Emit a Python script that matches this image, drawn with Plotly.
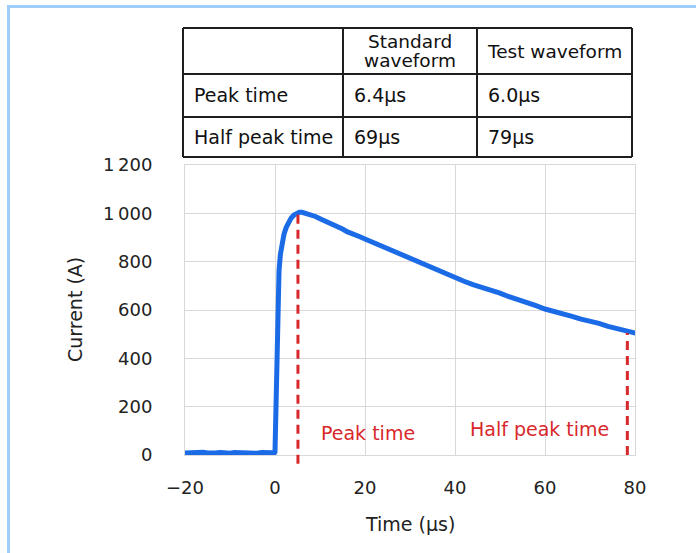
import plotly.graph_objects as go

# ---------------- data ----------------
time_us = [-20, -19, -18, -17, -16, -15, -14, -13, -12, -11, -10, -9, -8, -7, -6, -5, -4, -3, -2, -1, -0.1,
           0.0, 0.15, 0.3, 0.5, 0.7, 0.9, 1.2, 1.5, 2.0, 2.5, 3.0, 3.6, 4.2, 4.8, 5.4,
           6, 7, 8, 9, 10, 11, 12, 13, 14, 15, 16, 17, 18, 19, 20,
           22, 24, 26, 28, 30, 32, 34, 36, 38, 40, 42, 44, 46, 48, 50,
           52, 54, 56, 58, 60, 62, 64, 66, 68, 70, 72, 74, 76, 78, 80, 80.4]
current_a = [8, 10, 7, 9, 11, 8, 6, 9, 10, 8, 7, 10, 9, 11, 8, 9, 7, 10, 8, 9, 9,
             12, 180, 400, 570, 680, 765, 830, 872, 914, 942, 963, 981, 993, 1001, 1004,
             1004, 1000, 996, 987, 978, 970, 960, 953, 942, 935, 924, 918, 909, 902, 894,
             878, 860, 846, 827, 812, 794, 780, 762, 748, 731, 719, 705, 695, 681, 670,
             655, 644, 629, 618, 604, 595, 582, 574, 562, 554, 545, 532, 524, 513, 505, 503]

peak_time_x = 5.1          # position of the "Peak time" marker line
peak_level = 1000
half_peak_time_x = 78.3    # position of the "Half peak time" marker line
half_peak_level = 505

x_tickvals = [-20, 0, 20, 40, 60, 80]
y_tickvals = [0, 200, 400, 600, 800, 1000, 1200]
y_ticktext = ["0", "200", "400", "600", "800", "1\u2009000", "1\u2009200"]

table_header = ["", ["Standard", "waveform"], ["Test waveform"]]
table_rows = [["Peak time", "6.4\u03bcs", "6.0\u03bcs"],
              ["Half peak time", "69\u03bcs", "79\u03bcs"]]

# ---------------- layout helpers (pixel -> paper) ----------------
W, H = 696, 553
L, R, T, B = 185, 635, 165, 455


def xp(px):
    return (px - L) / (R - L)


def yp(py):
    return (B - py) / (B - T)


FONT = "DejaVu Sans, Liberation Sans, Arial, sans-serif"
BLUE = "#1c6be6"
RED = "#d8282c"

fig = go.Figure()
fig.add_trace(go.Scatter(x=time_us, y=current_a, mode="lines",
                         line=dict(color=BLUE, width=5), hoverinfo="skip",
                         showlegend=False))

shapes = []
# marker lines
shapes.append(dict(type="line", xref="x", yref="y domain", x0=peak_time_x, x1=peak_time_x,
                   y0=-0.03, y1=peak_level / 1200,
                   line=dict(color=RED, width=3, dash="9px,6px")))
shapes.append(dict(type="line", xref="x", yref="y domain", x0=half_peak_time_x, x1=half_peak_time_x,
                   y0=0.0, y1=half_peak_level / 1200,
                   line=dict(color=RED, width=3, dash="9px,6px")))

# frame (left and top light-blue border)
shapes.append(dict(type="line", xref="paper", yref="paper", x0=xp(8.5), x1=xp(8.5),
                   y0=yp(5), y1=yp(560), line=dict(color="#9fcdfc", width=3)))
shapes.append(dict(type="line", xref="paper", yref="paper", x0=xp(7), x1=xp(700),
                   y0=yp(6.5), y1=yp(6.5), line=dict(color="#9fcdfc", width=3)))

# table grid
col_px = [183, 343, 477, 632]
row_px = [28, 74, 117, 157]
for cx in col_px:
    shapes.append(dict(type="line", xref="paper", yref="paper", x0=xp(cx), x1=xp(cx),
                       y0=yp(row_px[0]), y1=yp(row_px[-1]), line=dict(color="#1e1e1e", width=2)))
for ry in row_px:
    shapes.append(dict(type="line", xref="paper", yref="paper", x0=xp(col_px[0]), x1=xp(col_px[-1]),
                       y0=yp(ry), y1=yp(ry), line=dict(color="#1e1e1e", width=2)))

annotations = []
# table header (centered, one annotation per text line)
for i, lines in enumerate(table_header):
    if not lines:
        continue
    cx = (col_px[i] + col_px[i + 1]) / 2
    cy = (row_px[0] + row_px[1]) / 2
    n = len(lines)
    for k, txt in enumerate(lines):
        ly = cy + (k - (n - 1) / 2) * 20
        annotations.append(dict(text=txt, xref="paper", yref="paper", x=xp(cx), y=yp(ly),
                                xanchor="center", yanchor="middle", showarrow=False,
                                font=dict(family=FONT, size=18.5, color="#111")))
# table body (left aligned)
for r, row in enumerate(table_rows):
    cy = (row_px[r + 1] + row_px[r + 2]) / 2
    for c, txt in enumerate(row):
        annotations.append(dict(text=txt, xref="paper", yref="paper", x=xp(col_px[c] + 9),
                                y=yp(cy), xanchor="left", yanchor="middle", showarrow=False,
                                font=dict(family=FONT, size=19, color="#111")))

# red labels
annotations.append(dict(text="Peak time", xref="x", yref="y", x=9.8, y=92, xanchor="left",
                        yanchor="middle", showarrow=False, font=dict(family=FONT, size=19, color=RED)))
annotations.append(dict(text="Half peak time", xref="x", yref="y", x=74.6, y=107, xanchor="right",
                        yanchor="middle", showarrow=False, font=dict(family=FONT, size=19, color=RED)))

# axis titles
annotations.append(dict(text="Current (A)", xref="paper", yref="paper", x=xp(75), y=yp(310),
                        xanchor="center", yanchor="middle", textangle=-90, showarrow=False,
                        font=dict(family=FONT, size=19, color="#222")))
annotations.append(dict(text="Time (\u03bcs)", xref="paper", yref="paper", x=xp(410), y=yp(524),
                        xanchor="center", yanchor="middle", showarrow=False,
                        font=dict(family=FONT, size=19, color="#222")))

fig.update_layout(
    width=W, height=H,
    margin=dict(l=L, r=W - R, t=T, b=H - B, pad=0),
    paper_bgcolor="white", plot_bgcolor="white",
    shapes=shapes, annotations=annotations,
    showlegend=False,
    xaxis=dict(range=[-20, 80], tickvals=x_tickvals, showgrid=True, gridcolor="#d9d9d9",
               gridwidth=1, zeroline=False, showline=True, linecolor="#d9d9d9", mirror=True,
               ticks="", ticklabelstandoff=16,
               tickfont=dict(family=FONT, size=18, color="#222")),
    yaxis=dict(range=[0, 1200], tickvals=y_tickvals, ticktext=y_ticktext, showgrid=True,
               gridcolor="#d9d9d9", gridwidth=1, zeroline=False, showline=True,
               linecolor="#d9d9d9", mirror=True, ticks="", ticklabelstandoff=28,
               tickfont=dict(family=FONT, size=18, color="#222")),
)

fig.write_html("out.html")
